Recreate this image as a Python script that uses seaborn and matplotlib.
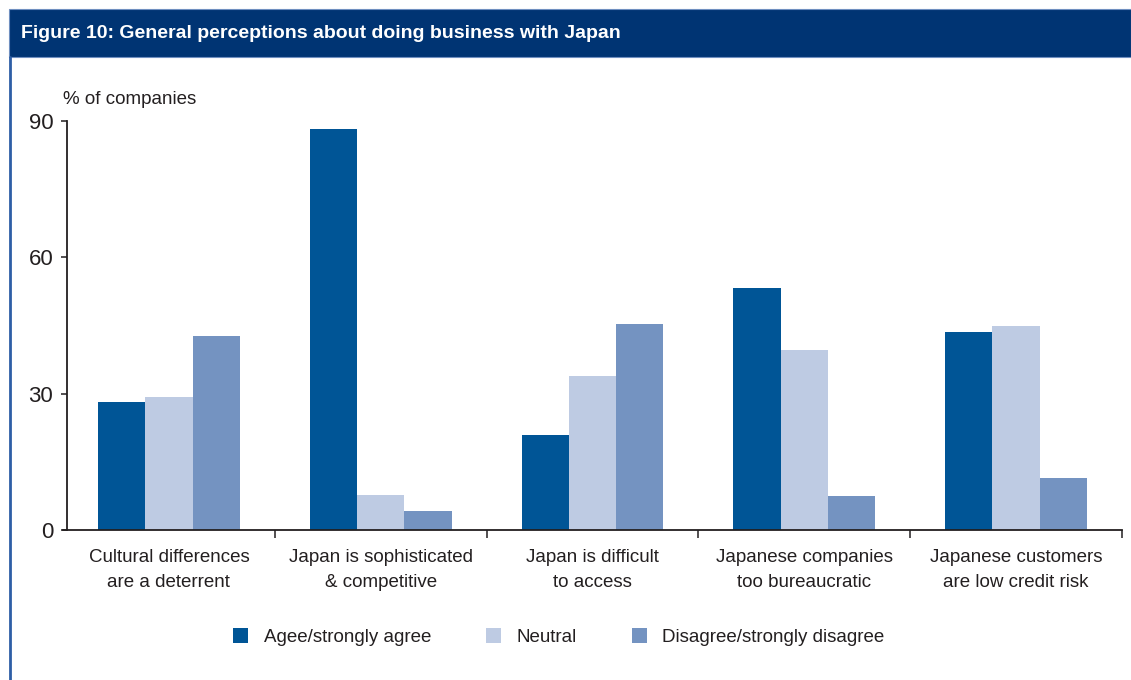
import matplotlib
matplotlib.use("Agg")
import matplotlib.pyplot as plt
from matplotlib.patches import Rectangle
from matplotlib.lines import Line2D
import seaborn as sns
import pandas as pd

# Survey responses, % of companies
categories = [
    "Cultural differences\nare a deterrent",
    "Japan is sophisticated\n& competitive",
    "Japan is difficult\nto access",
    "Japanese companies\ntoo bureaucratic",
    "Japanese customers\nare low credit risk",
]
series_names = ["Agee/strongly agree", "Neutral", "Disagree/strongly disagree"]
agree = [28.1, 88.2, 20.9, 53.2, 43.5]
neutral = [29.2, 7.7, 33.9, 39.6, 44.9]
disagree = [42.7, 4.2, 45.3, 7.5, 11.4]
y_ticks = [0, 30, 60, 90]
title = "Figure 10: General perceptions about doing business with Japan"
y_label = "% of companies"

colors = ["#005596", "#BECBE3", "#7493C1"]
text_color = "#231F20"
navy = "#003473"

rows = []
for name, vals in zip(series_names, [agree, neutral, disagree]):
    for cat, v in zip(categories, vals):
        rows.append({"category": cat, "response": name, "value": v})
df = pd.DataFrame(rows)

sns.set_theme(style="white")
plt.rcParams["font.family"] = ["Liberation Sans", "DejaVu Sans"]
plt.rcParams["text.color"] = text_color

W, H = 1131, 680
fig = plt.figure(figsize=(W / 100, H / 100), dpi=100)
fig.patch.set_facecolor("white")

ax = fig.add_axes([63 / W, (H - 530) / H, (1122 - 63) / W, (530 - 121) / H])
sns.barplot(
    data=df, x="category", y="value", hue="response",
    hue_order=series_names, palette=colors, width=0.67,
    saturation=1, ax=ax, linewidth=0, errorbar=None,
)

ax.set_xlim(-0.5, 4.5)
ax.set_ylim(0, 90)
ax.set_yticks(y_ticks)
ax.set_xlabel("")
ax.set_ylabel("")

for side in ["top", "right"]:
    ax.spines[side].set_visible(False)
for side in ["left", "bottom"]:
    ax.spines[side].set_color(text_color)
    ax.spines[side].set_linewidth(1.3)
ax.spines["left"].set_position(("axes", 0.004))

ax.tick_params(axis="y", which="major", direction="out", length=4, width=1.1,
               color=text_color, labelsize=16, labelcolor=text_color, pad=6,
               left=True)
ax.tick_params(axis="x", which="major", length=0, labelsize=13.5,
               labelcolor=text_color, pad=14)
ax.set_xticks(range(len(categories)))
ax.set_xticklabels(categories, linespacing=1.6)
ax.set_xticks([0.5, 1.5, 2.5, 3.5, 4.5], minor=True)
ax.tick_params(axis="x", which="minor", direction="out", length=6, width=1.1,
               color=text_color, bottom=True)

handles, labels = ax.get_legend_handles_labels()
ax.get_legend().remove()
fig.legend(handles, labels, loc="center", bbox_to_anchor=(559 / W, (H - 637) / H),
           ncol=3, frameon=False, fontsize=13.5, handlelength=0.8, handleheight=0.8,
           handletextpad=0.85, columnspacing=2.9, labelcolor=text_color)

fig.text(63 / W, (H - 100) / H, y_label, fontsize=13.5, ha="left", va="center",
         color=text_color)

# Title banner and left frame rule
fig.patches.append(Rectangle((9 / W, (H - 57) / H), 1 - 9 / W, 48 / H,
                             transform=fig.transFigure, facecolor=navy,
                             edgecolor="#6F8FC0", linewidth=0.8, zorder=0))
fig.lines.append(Line2D([9.5 / W, 9.5 / W], [0, (H - 57) / H],
                        transform=fig.transFigure, color="#2E5EA6", linewidth=2))
fig.text(21 / W, (H - 33) / H, title, fontsize=14, fontweight="bold",
         color="white", ha="left", va="center")

fig.savefig("out.png", dpi=100)
